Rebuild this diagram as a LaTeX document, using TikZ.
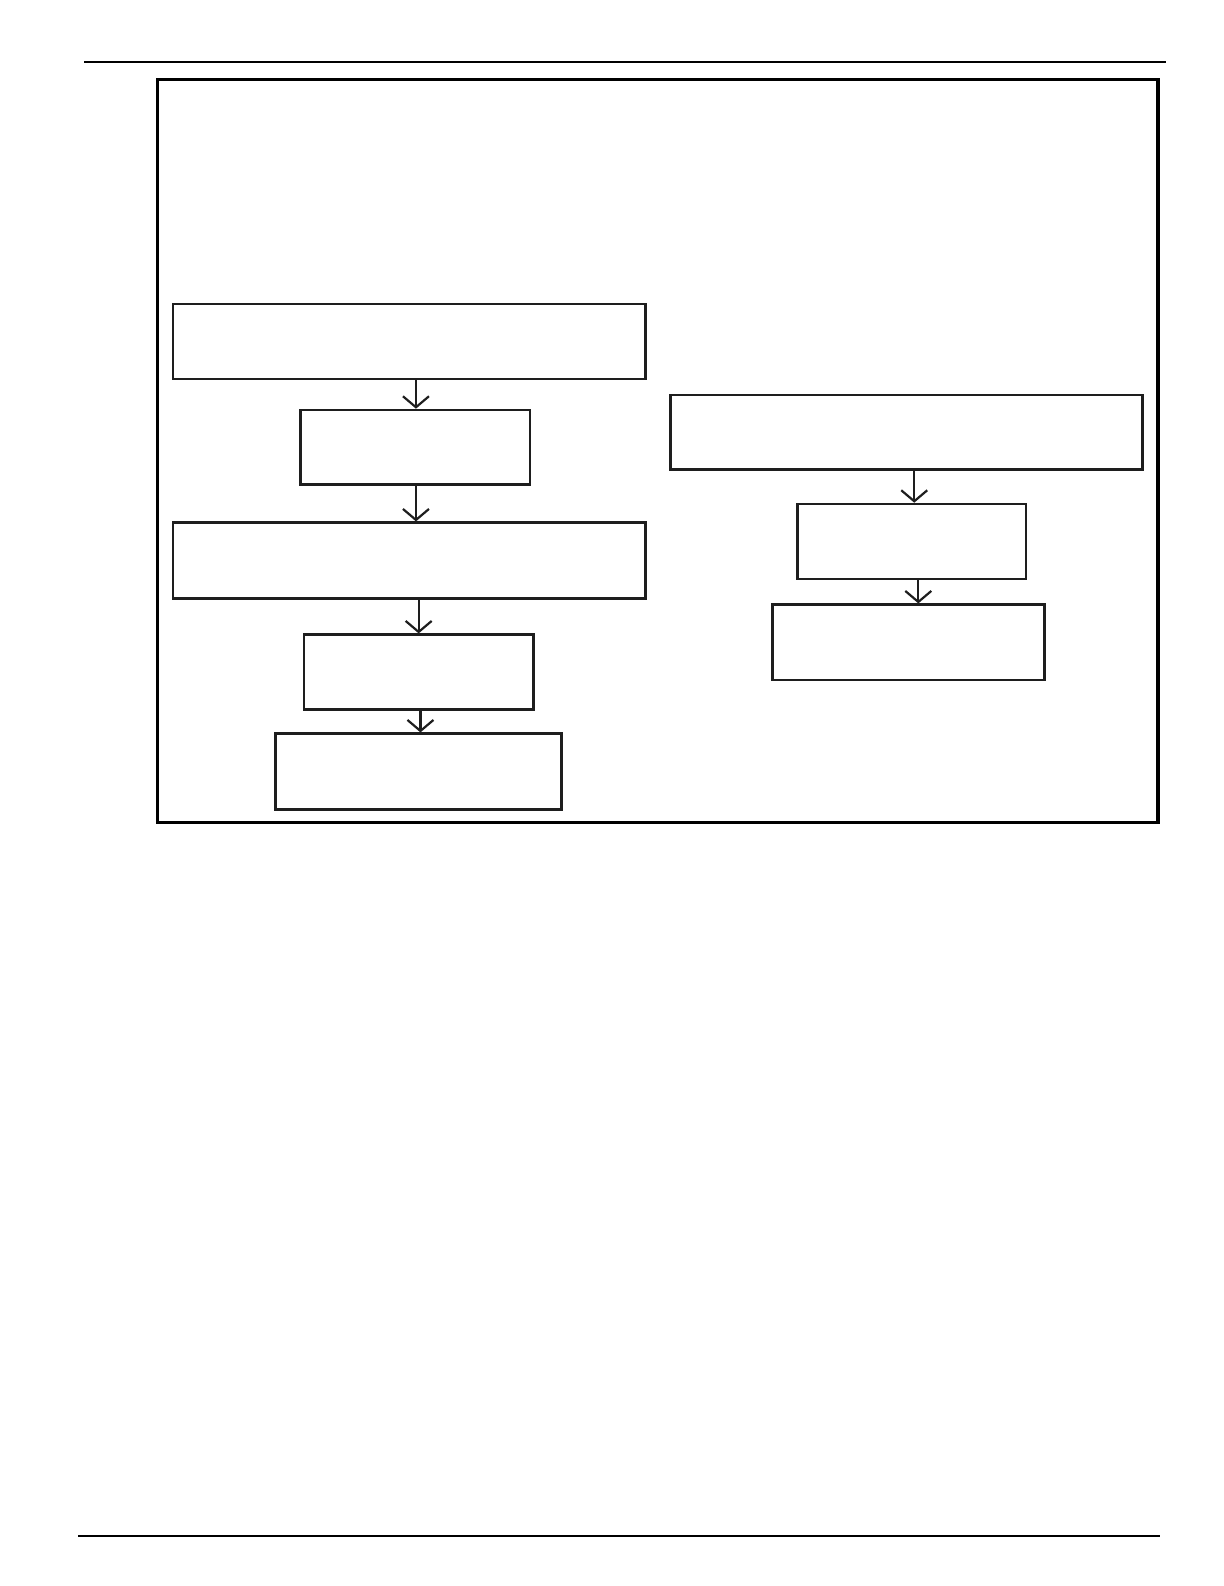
\documentclass[tikz,border=0pt]{standalone}
\usetikzlibrary{arrows.meta}
\definecolor{ink}{HTML}{1E1E1E}
\begin{document}
\begin{tikzpicture}[x=0.5pt,y=-0.5pt,
  flowbox/.style={draw=ink,line width=1.3pt,rectangle,inner sep=0pt},
  arr/.style={draw=ink,line width=1.1pt,-{Straight Barb[length=5.5pt,width=13pt,line width=1.1pt]}},
  rule/.style={draw=black,line width=0.7pt},
  frame/.style={draw=black,line width=1.6pt}]
\useasboundingbox (0,0) rectangle (1224,1586);
% page rules
\coordinate (t1) at (84,62);
\coordinate (t2) at (1166,62);
\coordinate (b1) at (78,1536);
\coordinate (b2) at (1160,1536);
\draw[rule] (t1) -- (t2);
\draw[rule,line width=0.9pt] (b1) -- (b2);
% outer frame
\coordinate (f1) at (157.7,79.3);
\coordinate (f2) at (1158,822.7);
\draw[frame] (f1) rectangle (f2);
% left column
\node[flowbox,minimum width=236.25pt,minimum height=37.5pt] (A) at (409.25,341.5) {};
\node[flowbox,minimum width=114.65pt,minimum height=37.35pt] (B) at (415.35,447.35) {};
\node[flowbox,minimum width=236.25pt,minimum height=38pt] (C) at (409.25,560.7) {};
\node[flowbox,minimum width=114.65pt,minimum height=37.5pt] (D) at (418.65,672.2) {};
\node[flowbox,minimum width=142.8pt,minimum height=37.8pt] (E) at (418.5,771.5) {};
% right column
\node[flowbox,minimum width=236pt,minimum height=37.25pt] (F) at (906.7,432.25) {};
\node[flowbox,minimum width=114.35pt,minimum height=37.5pt] (G) at (911.65,541.5) {};
\node[flowbox,minimum width=136pt,minimum height=37.65pt] (H) at (908.3,642.35) {};
% connectors
\draw[arr] ([xshift=0.3pt]B.north |- A.south) -- ([xshift=0.3pt]B.north);
\draw[arr] ([xshift=0.3pt]B.south) -- ([xshift=0.3pt]B.south |- C.north);
\draw[arr] (D.north |- C.south) -- (D.north);
\draw[arr] ([xshift=0.9pt]D.south) -- ([xshift=0.9pt]D.south |- E.north);
\draw[arr] ([xshift=1.3pt]G.north |- F.south) -- ([xshift=1.3pt]G.north);
\draw[arr] ([xshift=5pt]H.north |- G.south) -- ([xshift=5pt]H.north);
\end{tikzpicture}
\end{document}
